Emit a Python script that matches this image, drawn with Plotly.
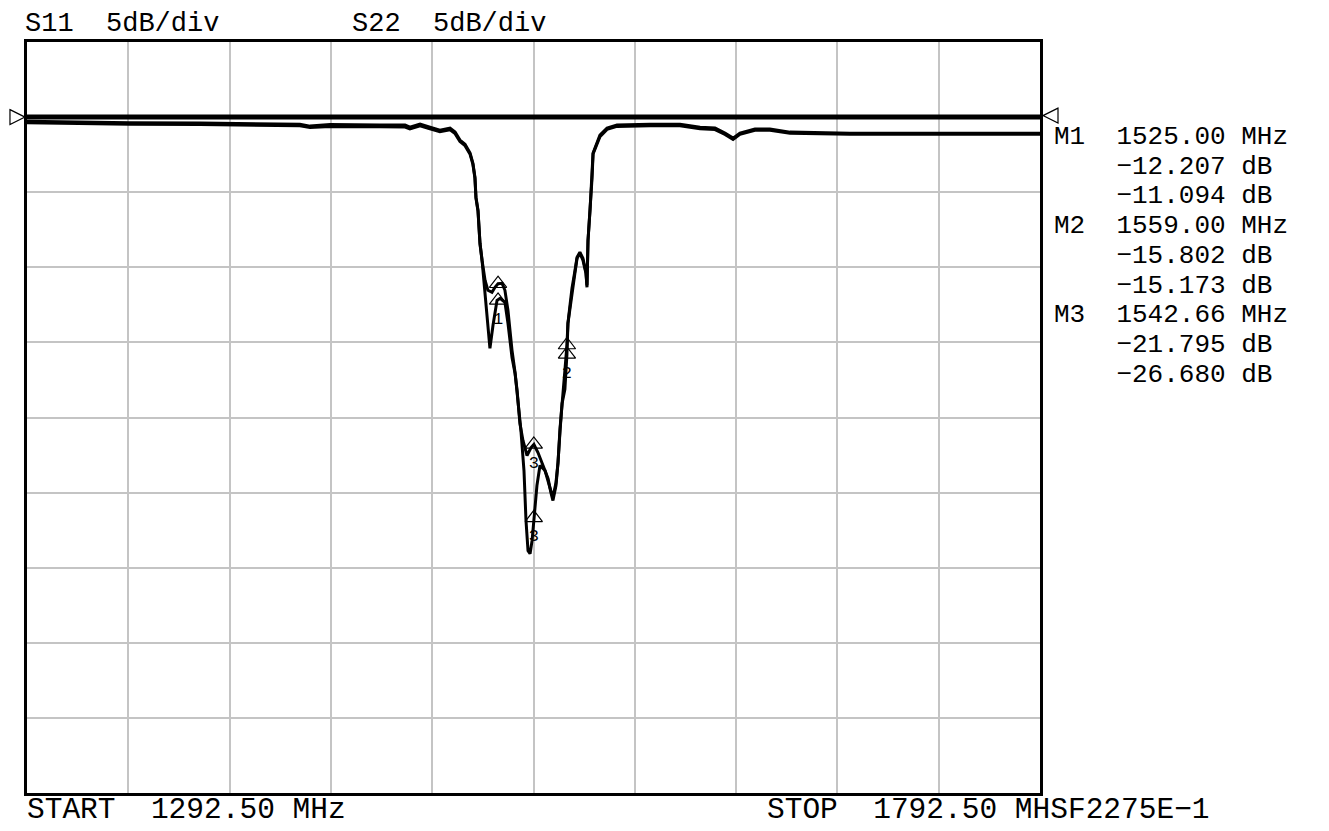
import plotly.graph_objects as go

start_mhz = 1292.50
stop_mhz = 1792.50
db_per_div = 5
ref_db = 0.0
instrument_id = "SF2275E\u22121"

s11_freq = [1292.5, 1313.7, 1343.3, 1377.9, 1402.6, 1427.2, 1432.2, 1442.1, 1466.7, 1479.1,
            1481.5, 1486.5, 1491.4, 1496.3, 1501.3, 1503.8, 1506.2, 1508.7, 1511.2, 1512.6,
            1513.6, 1514.1, 1515.1, 1515.6, 1516.1, 1517.1, 1518.6, 1520.0, 1521.0, 1522.5,
            1524.5, 1526.0, 1528.4, 1529.9, 1531.9, 1533.4, 1534.4, 1535.8, 1537.3, 1539.3,
            1541.3, 1542.7, 1544.7, 1547.2, 1549.7, 1551.1, 1552.1, 1553.6, 1554.6, 1555.6,
            1556.6, 1558.0, 1559.0, 1559.5, 1560.5, 1561.5, 1563.0, 1564.0, 1565.4, 1566.9,
            1568.4, 1568.9, 1569.4, 1570.4, 1571.4, 1571.9, 1573.8, 1575.3, 1578.8, 1583.7,
            1600.0, 1614.8, 1624.7, 1632.1, 1637.0, 1641.0, 1644.4, 1651.8, 1659.2, 1669.1,
            1698.7, 1748.1, 1792.5]
s11_db = [-0.27, -0.33, -0.37, -0.40, -0.43, -0.47, -0.60, -0.50, -0.53, -0.53,
          -0.67, -0.47, -0.67, -0.87, -0.73, -1.00, -1.53, -1.80, -2.40, -3.07,
          -4.00, -5.33, -6.20, -7.33, -8.40, -9.53, -11.87, -13.73, -15.40, -13.87,
          -12.20, -12.07, -12.33, -13.73, -16.00, -17.07, -18.20, -20.40, -21.53, -22.53,
          -22.00, -21.795, -22.33, -23.20, -24.07, -25.00, -25.53, -24.53, -23.00, -20.87,
          -19.07, -18.13, -15.802, -13.73, -12.67, -11.53, -10.33, -9.40, -9.07, -9.53,
          -10.40, -11.33, -8.20, -6.20, -4.00, -2.40, -1.73, -1.20, -0.73, -0.53,
          -0.47, -0.47, -0.67, -0.73, -1.07, -1.40, -1.07, -0.80, -0.80, -1.00,
          -1.07, -1.07, -1.07]

s22_freq = [1292.5, 1313.7, 1343.3, 1377.9, 1402.6, 1427.2, 1432.2, 1442.1, 1466.7, 1479.1,
            1481.5, 1486.5, 1491.4, 1496.3, 1501.3, 1503.8, 1506.2, 1508.7, 1511.2, 1512.6,
            1513.6, 1514.1, 1515.1, 1515.6, 1516.1, 1517.1, 1518.6, 1520.0, 1522.0, 1523.5,
            1525.0, 1527.0, 1528.4, 1529.9, 1531.9, 1533.4, 1534.8, 1536.3, 1537.8, 1538.8,
            1539.8, 1540.8, 1541.8, 1542.7, 1544.2, 1545.7, 1548.2, 1550.6, 1552.1, 1553.6,
            1554.6, 1555.6, 1556.6, 1558.0, 1559.0, 1559.5, 1560.5, 1561.5, 1563.0, 1564.0,
            1565.4, 1566.9, 1568.4, 1568.9, 1569.4, 1570.4, 1571.4, 1571.9, 1573.8, 1575.3,
            1578.8, 1583.7, 1600.0, 1614.8, 1624.7, 1632.1, 1637.0, 1641.0, 1644.4, 1651.8,
            1659.2, 1669.1, 1698.7, 1748.1, 1792.5]
s22_db = [-0.38, -0.43, -0.47, -0.50, -0.55, -0.58, -0.70, -0.62, -0.65, -0.66,
          -0.78, -0.58, -0.78, -0.98, -0.85, -1.10, -1.62, -1.90, -2.48, -3.15,
          -4.08, -5.40, -6.25, -7.40, -8.45, -9.53, -10.87, -11.53, -11.67, -11.33,
          -11.094, -11.07, -11.53, -12.87, -15.53, -17.00, -18.87, -20.87, -23.53, -26.87,
          -28.87, -29.07, -28.20, -26.68, -24.53, -23.20, -23.53, -24.67, -25.33, -24.33,
          -23.00, -20.73, -18.87, -16.87, -15.173, -13.73, -12.53, -11.40, -10.20, -9.33,
          -9.00, -9.40, -10.33, -11.20, -8.25, -6.25, -4.05, -2.45, -1.80, -1.30,
          -0.82, -0.62, -0.57, -0.57, -0.77, -0.83, -1.15, -1.48, -1.15, -0.88,
          -0.88, -1.08, -1.15, -1.15, -1.15]

marker_names = ["M1", "M2", "M3"]
marker_freq = [1525.00, 1559.00, 1542.66]
marker_s11_db = [-12.207, -15.802, -21.795]
marker_s22_db = [-11.094, -15.173, -26.680]
marker_s11_labels = ["1", "2", "3"]
marker_s22_labels = ["", "", "3"]

# ---------------- figure ----------------
n_div_x = 10
n_div_y = 10
y_top = ref_db + 1 * db_per_div
y_bottom = y_top - n_div_y * db_per_div

OFF = 8  # page body margin of the html page
W, H = 1329 - OFF, 831 - OFF
L, T = 27 - OFF, 42 - OFF
plot_w, plot_h = 1013, 751
R = W - L - plot_w
B = H - T - plot_h

mono = "Liberation Mono"
line_style = dict(color="black", width=3)

fig = go.Figure()
fig.add_trace(go.Scatter(x=s11_freq, y=s11_db, mode="lines", line=line_style,
                         name="S11", showlegend=False, hoverinfo="skip"))
fig.add_trace(go.Scatter(x=s22_freq, y=s22_db, mode="lines", line=line_style,
                         name="S22", showlegend=False, hoverinfo="skip"))

# marker triangles with numbers
for dbs, labels in ((marker_s11_db, marker_s11_labels), (marker_s22_db, marker_s22_labels)):
    fig.add_trace(go.Scatter(
        x=marker_freq, y=dbs, mode="markers+text",
        marker=dict(symbol="triangle-up-open", size=15, color="black", line=dict(width=1.2, color="black")),
        text=labels, textposition="bottom center",
        textfont=dict(family=mono, size=17, color="black"),
        showlegend=False, hoverinfo="skip", cliponaxis=False))

annotations = []


def px_x(px):
    # px in reference-picture pixels
    return (px - 27) / plot_w


def px_y(py):
    return (42 + plot_h - py) / plot_h


def note(text, x, y, size):
    annotations.append(dict(text=text.replace(" ", "\u00a0"), x=px_x(x), y=px_y(y), xref="paper", yref="paper",
                            xanchor="left", yanchor="middle", showarrow=False,
                            font=dict(family=mono, size=size, color="black")))


# header
note("S11  %ddB/div" % db_per_div, 23, 24, 27)
note("S22  %ddB/div" % db_per_div, 350, 24, 27)

# footer
note("START  %.2f MHz" % start_mhz, 25, 810, 29.5)
note("STOP  %.2f MH%s" % (stop_mhz, instrument_id), 765, 810, 29.5)


def fmt_db(v):
    return ("%.3f dB" % v).replace("-", "\u2212")


rows = []
for name, f, a, b in zip(marker_names, marker_freq, marker_s11_db, marker_s22_db):
    rows.append("%s  %.2f MHz" % (name, f))
    rows.append("    " + fmt_db(a))
    rows.append("    " + fmt_db(b))
for i, r in enumerate(rows):
    note(r, 1052, 137 + 29.7 * i, 26)

shapes = []
# reference level line
shapes.append(dict(type="line", xref="paper", yref="y", x0=0, x1=1, y0=ref_db, y1=ref_db,
                   line=dict(color="black", width=5), layer="above"))
# reference markers (left and right)
tri_w = 15 / plot_w
tri_h = (7.5 / plot_h) * (y_top - y_bottom)
shapes.append(dict(type="path", xref="paper", yref="y",
                   path="M %f,%f L %f,%f L %f,%f Z" % (-0.002 - tri_w, ref_db + tri_h, -0.002, ref_db,
                                                       -0.002 - tri_w, ref_db - tri_h),
                   line=dict(color="black", width=1.2), fillcolor="white"))
xr = 1.0 + 3 / plot_w
shapes.append(dict(type="path", xref="paper", yref="y",
                   path="M %f,%f L %f,%f L %f,%f Z" % (xr + tri_w, ref_db + tri_h + 0.1, xr, ref_db + 0.1,
                                                       xr + tri_w, ref_db - tri_h + 0.1),
                   line=dict(color="black", width=1.2), fillcolor="white"))

fig.update_layout(
    width=W, height=H,
    margin=dict(l=L, r=R, t=T, b=B, pad=0),
    paper_bgcolor="white", plot_bgcolor="white",
    showlegend=False,
    annotations=annotations,
    shapes=shapes,
    xaxis=dict(range=[start_mhz, stop_mhz], tick0=start_mhz, dtick=(stop_mhz - start_mhz) / n_div_x,
               showgrid=True, gridcolor="#c4c4c4", gridwidth=1.6, zeroline=False,
               showticklabels=False, ticks="", showline=True, mirror=True,
               linecolor="black", linewidth=3, fixedrange=True),
    yaxis=dict(range=[y_bottom, y_top], tick0=y_bottom, dtick=db_per_div,
               showgrid=True, gridcolor="#c4c4c4", gridwidth=1.6, zeroline=False,
               showticklabels=False, ticks="", showline=True, mirror=True,
               linecolor="black", linewidth=3, fixedrange=True),
)

fig.write_html("out.html", config={"displayModeBar": False})
